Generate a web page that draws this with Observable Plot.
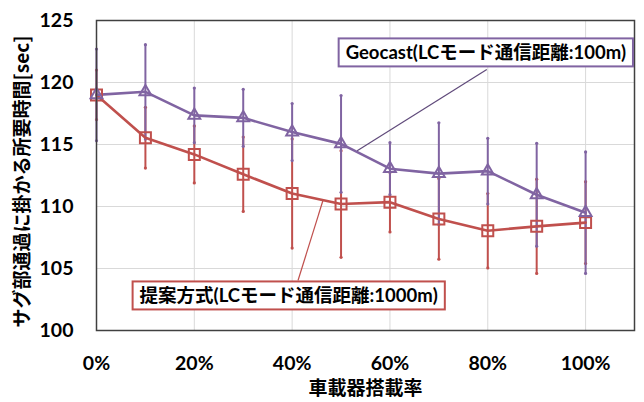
<!DOCTYPE html>
<html>
<head>
<meta charset="utf-8">
<script src="https://cdn.jsdelivr.net/npm/d3@7"></script>
<script src="https://cdn.jsdelivr.net/npm/@observablehq/plot@0.6"></script>
<style>
  html, body { margin: 0; padding: 0; background: #fff; }
  #chart { width: 644px; height: 402px; }
</style>
</head>
<body>
<div id="chart"></div>
<script>
// ---- data ----
const pct = [0, 10, 20, 30, 40, 50, 60, 70, 80, 90, 100];            // 車載器搭載率 (%)
const geoMean = [119.0, 119.25, 117.35, 117.15, 116.0, 115.05, 113.05, 112.65, 112.85, 110.95, 109.5];
const geoErr  = [3.7, 3.8, 2.2, 2.3, 2.3, 3.9, 2.1, 4.1, 2.65, 4.15, 4.9];
const propMean = [119.0, 115.55, 114.2, 112.6, 111.05, 110.2, 110.35, 109.0, 108.05, 108.4, 108.7];
const propErr  = [2.0, 2.45, 2.3, 3.0, 4.4, 4.3, 2.4, 3.25, 3.0, 3.8, 3.3];
const xTicks = [0, 20, 40, 60, 80, 100];
const yTicks = [100, 105, 110, 115, 120, 125];
const seriesNames = ["Geocast(LCモード通信距離:100m)", "提案方式(LCモード通信距離:1000m)"];
const xTitle = "車載器搭載率";
const yTitle = "サグ部通過に掛かる所要時間[sec]";
// callout annotations (label anchor and leader-line ends, in data units)
const calloutGeo  = {x: 79.6, y: 122.34, lx1: 79.8, ly1: 121.05, lx2: 53.3, ly2: 114.5};
const calloutProp = {x: 39.3, y: 102.74, lx1: 41.2, ly1: 104.03, lx2: 46.3, ly2: 110.48};

const PURPLE = "#8064A2";
const RED = "#C0504D";

const geo = pct.map((p, i) => ({x: p, y: geoMean[i], lo: geoMean[i] - geoErr[i], hi: geoMean[i] + geoErr[i]}));
const prop = pct.map((p, i) => ({x: p, y: propMean[i], lo: propMean[i] - propErr[i], hi: propMean[i] + propErr[i]}));
const callouts = [
  {...calloutGeo, text: seriesNames[0], color: PURPLE, lineColor: "#5F497A"},
  {...calloutProp, text: seriesNames[1], color: RED, lineColor: RED}
];

const latin = "Lato, 'Noto Sans CJK JP', sans-serif";
const cjk = "'Noto Sans CJK JP', sans-serif";

const chart = Plot.plot({
  width: 644,
  height: 402,
  marginLeft: 96,
  marginRight: 10,
  marginTop: 20,
  marginBottom: 72,
  style: {fontFamily: latin, fontWeight: "bold", color: "#000", background: "#fff", overflow: "visible"},
  x: {domain: [0, 110]},
  y: {domain: [100, 125]},
  marks: [
    Plot.gridX(xTicks, {stroke: "#d9d9d9", strokeOpacity: 1, strokeWidth: 1}),
    Plot.gridY(yTicks, {stroke: "#d9d9d9", strokeOpacity: 1, strokeWidth: 1}),
    Plot.axisX({ticks: xTicks, tickSize: 0, tickPadding: 26, tickFormat: d => d + "%", label: null, fontSize: 19.5, fontWeight: "bold", fontFamily: latin}),
    Plot.axisY({ticks: yTicks, tickSize: 0, tickPadding: 23, label: null, fontSize: 19.5, fontWeight: "bold", fontFamily: latin}),
    Plot.text([yTitle], {frameAnchor: "left", rotate: -90, dx: -74, dy: 6, textAnchor: "middle", lineAnchor: "middle", fontSize: 19, fontFamily: cjk, fontWeight: "bold", fill: "#000"}),
    Plot.text([xTitle], {frameAnchor: "bottom", dy: 58, textAnchor: "middle", lineAnchor: "middle", fontSize: 19, fontFamily: cjk, fontWeight: "bold", fill: "#000"}),
    // error bars – red first, purple over it
    Plot.ruleX(prop, {x: "x", y1: "lo", y2: "hi", stroke: RED, strokeWidth: 2}),
    Plot.dot(prop, {x: "x", y: "lo", r: 1.6, fill: RED}),
    Plot.dot(prop, {x: "x", y: "hi", r: 1.6, fill: RED}),
    Plot.ruleX(geo, {x: "x", y1: "lo", y2: "hi", stroke: PURPLE, strokeWidth: 2}),
    Plot.dot(geo, {x: "x", y: "lo", r: 1.6, fill: PURPLE}),
    Plot.dot(geo, {x: "x", y: "hi", r: 1.6, fill: PURPLE}),
    // lines + markers
    Plot.line(prop, {x: "x", y: "y", stroke: RED, strokeWidth: 2.6}),
    Plot.line(geo, {x: "x", y: "y", stroke: PURPLE, strokeWidth: 2.6}),
    Plot.dot(prop, {x: "x", y: "y", symbol: "square", r: 6.2, stroke: RED, strokeWidth: 2, fill: "none"}),
    Plot.dot(geo, {x: "x", y: "y", symbol: "triangle", r: 4.4, stroke: PURPLE, strokeWidth: 2, fill: "none"}),
    // frame
    Plot.frame({stroke: "#404040", strokeWidth: 1.5}),
    // callouts
    Plot.link(callouts, {x1: "lx1", y1: "ly1", x2: "lx2", y2: "ly2", stroke: "lineColor", strokeWidth: 1.2}),
    Plot.text(callouts, {x: "x", y: "y", text: "text", fontSize: 18.5, fontFamily: latin, fontWeight: "bold", fill: "#000"})
  ]
});

document.getElementById("chart").appendChild(chart);

// draw the boxes behind callout texts
const svgNS = "http://www.w3.org/2000/svg";
chart.querySelectorAll("text").forEach(t => {
  const i = seriesNames.indexOf(t.textContent);
  if (i < 0) return;
  const bb = t.getBBox();
  const padX = 7, padY = 3;
  const r = document.createElementNS(svgNS, "rect");
  r.setAttribute("x", bb.x - padX);
  r.setAttribute("y", bb.y - padY);
  r.setAttribute("width", bb.width + 2 * padX);
  r.setAttribute("height", bb.height + 2 * padY);
  r.setAttribute("fill", "#fff");
  r.setAttribute("stroke", callouts[i].color);
  r.setAttribute("stroke-width", "2");
  const tr = t.getAttribute("transform");
  if (tr) r.setAttribute("transform", tr);
  t.parentNode.insertBefore(r, t);
});
</script>
</body>
</html>
